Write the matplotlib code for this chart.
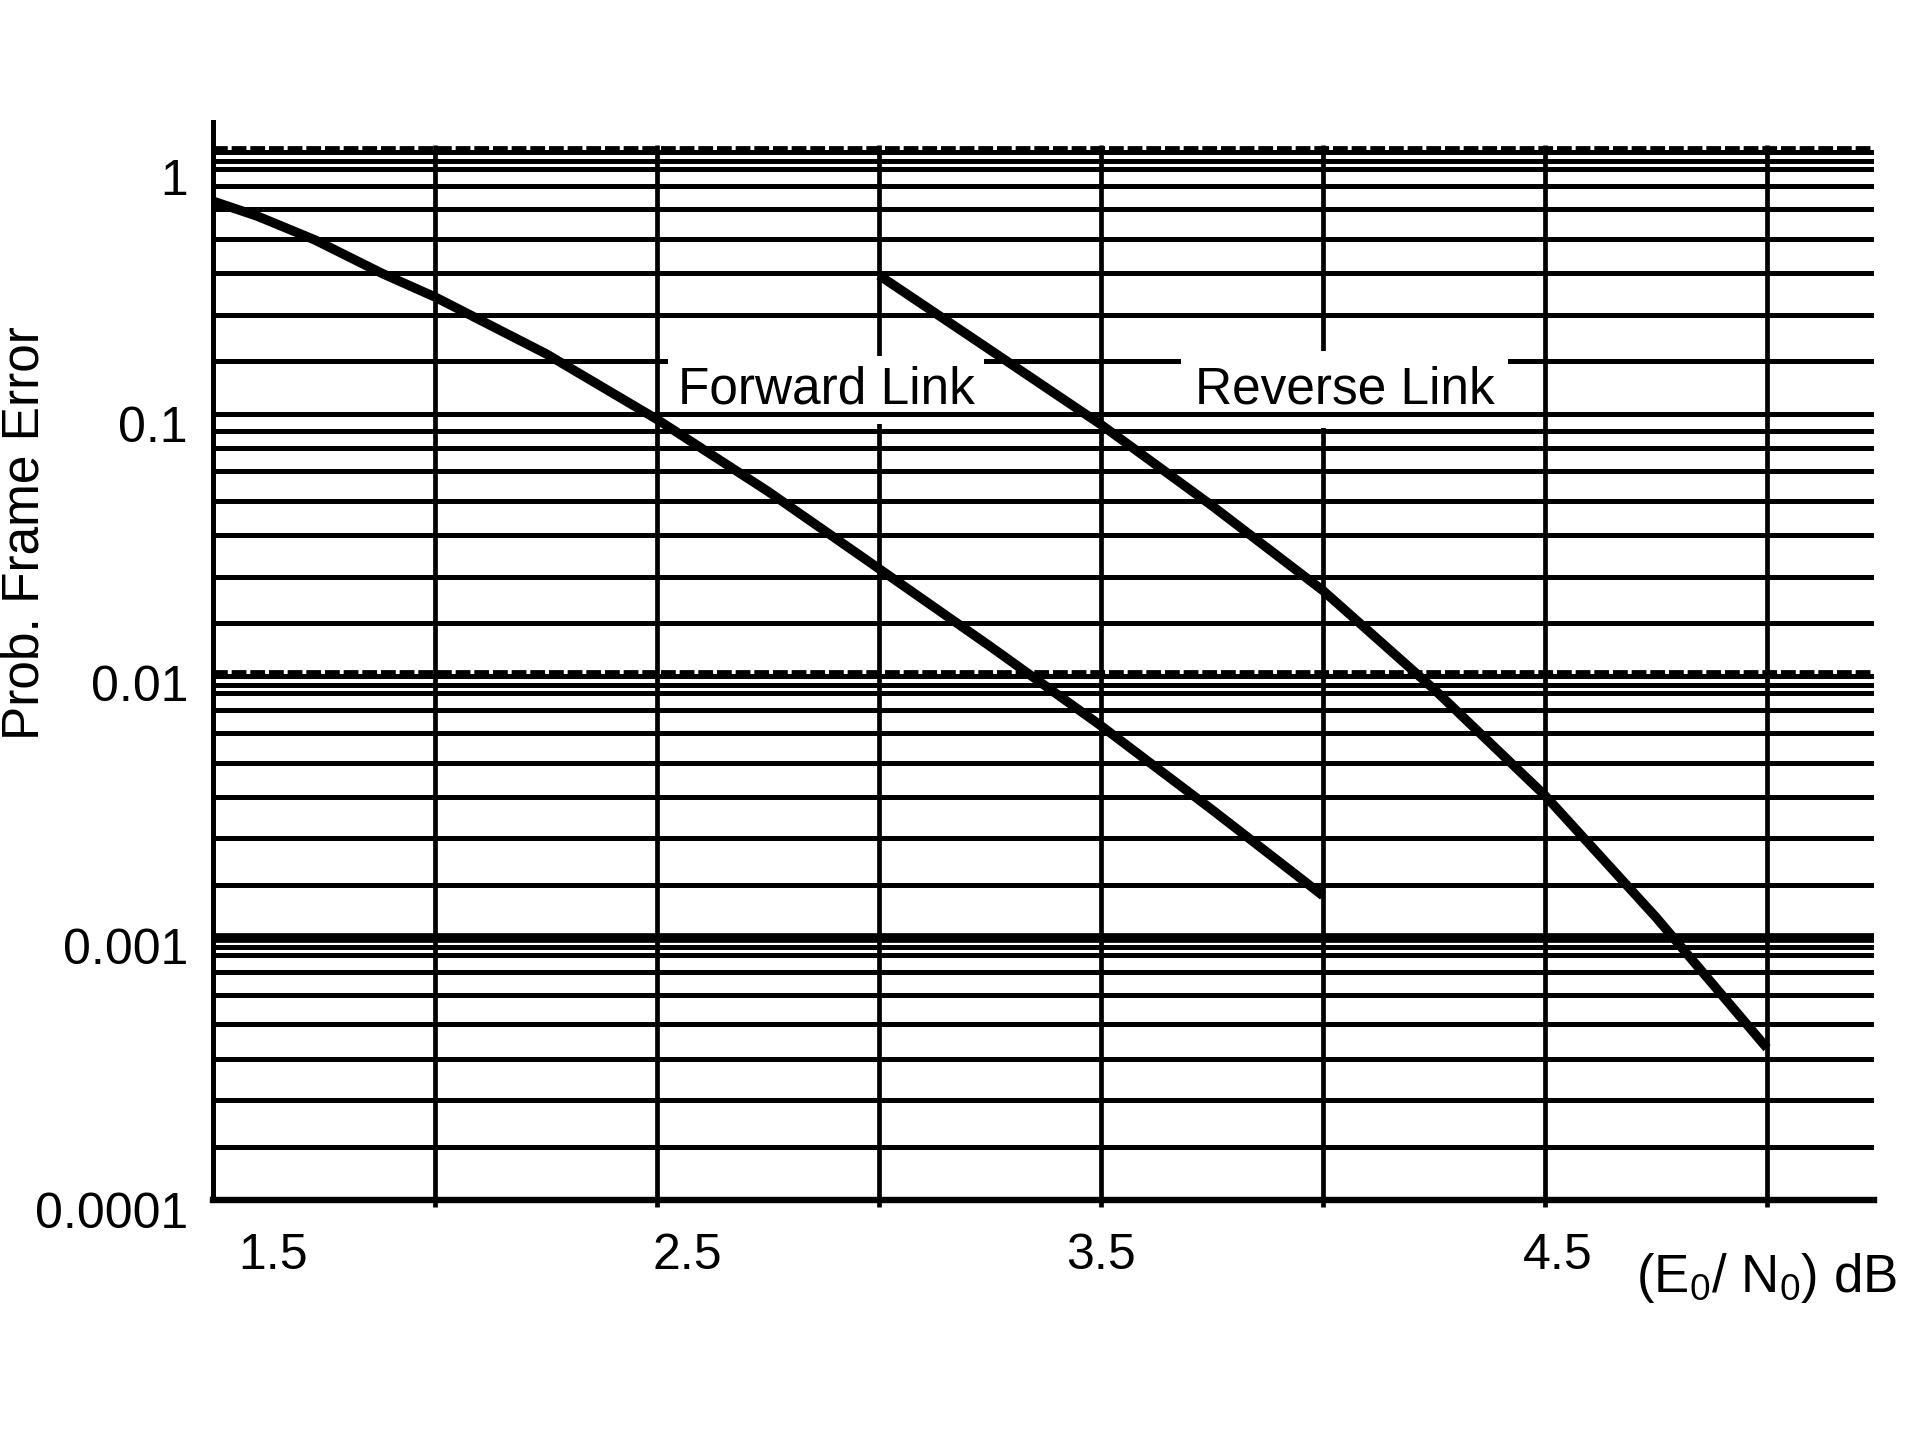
import matplotlib.pyplot as plt
from matplotlib.transforms import ScaledTranslation

plt.rcParams['font.family'] = ['Liberation Sans', 'DejaVu Sans']
plt.rcParams['mathtext.fontset'] = 'custom'
plt.rcParams['mathtext.rm'] = 'Liberation Sans'
plt.rcParams['mathtext.it'] = 'Liberation Sans:italic'
plt.rcParams['mathtext.bf'] = 'Liberation Sans:bold'

# values
fwd_ebno = [1.5, 1.6, 1.73, 1.88, 2.0, 2.25, 2.5, 2.75, 3.0, 3.25, 3.5, 3.75, 4.0]
fwd_pfe = [0.65, 0.57, 0.462, 0.345, 0.28, 0.170, 0.0955, 0.0507, 0.0257, 0.0130,
           0.00646, 0.00309, 0.00145]

rev_ebno = [3.0, 3.25, 3.5, 3.75, 4.0, 4.25, 4.5, 4.75, 5.0]
rev_pfe = [0.339, 0.176, 0.0912, 0.0447, 0.0212, 0.00891, 0.0035, 0.0012, 0.00038]

x_ticks = [1.5, 2.5, 3.5, 4.5]
x_tick_labels = ['1.5', '2.5', '3.5', '4.5']
y_ticks = [1, 0.1, 0.01, 0.001, 0.0001]
y_tick_labels = ['1', '0.1', '0.01', '0.001', '0.0001']

# the original grid is not a true log grid: where the minor lines sit inside a decade
minor_frac = [0.035, 0.063, 0.13, 0.217, 0.33, 0.46, 0.62, 0.797]
v_grid = [2.0, 2.5, 3.0, 3.5, 4.0, 4.5, 5.0]

fig = plt.figure(figsize=(19.2, 14.4), dpi=100)
ax = fig.add_axes([0.111, 0.1667, 0.8648, 0.7483])
ax.set_yscale('log')
ax.set_xlim(1.5, 5.24)
ax.set_ylim(1e-4, 1.3)

lw_grid = 3.6
for k in range(4):
    for f in minor_frac:
        if k == 1 and f < 0.05:
            continue  # that one is missing under 0.1 in the original
        ax.axhline(10 ** (-(k + f)), color='black', lw=lw_grid, zorder=1)

# decade lines (drawn above the label boxes)
for yv in [1, 0.01]:
    ax.axhline(yv, color='black', lw=lw_grid, zorder=2.5)
    ax.axhline(yv * 1.02, color='black', lw=5.6, linestyle=(0, (1.9, 0.5)),
               zorder=2.5)
ax.axhline(0.1, color='black', lw=lw_grid, zorder=2.5)
ax.axhline(0.001, color='black', lw=7, zorder=2.5)

ax.vlines(v_grid, 9.4e-5, 1.07, color='black', lw=3.4, zorder=1, clip_on=False)

ax.plot(fwd_ebno, fwd_pfe, color='black', lw=6.8, solid_joinstyle='round',
        solid_capstyle='butt', zorder=3)
ax.plot(rev_ebno, rev_pfe, color='black', lw=6.8, solid_joinstyle='round',
        solid_capstyle='butt', zorder=3)

ax.text(2.546, 0.11, 'Forward Link', fontsize=37, ha='left', va='baseline',
        bbox=dict(facecolor='white', edgecolor='none', pad=7), zorder=2)
ax.text(3.711, 0.11, 'Reverse Link', fontsize=37, ha='left', va='baseline',
        bbox=dict(facecolor='white', edgecolor='none', pad=10), zorder=2)

for s in ['top', 'right']:
    ax.spines[s].set_visible(False)
ax.spines['left'].set_linewidth(3.6)
ax.spines['bottom'].set_linewidth(4.6)

ax.set_xticks(x_ticks)
ax.set_xticklabels(x_tick_labels)
ax.set_yticks(y_ticks)
ax.set_yticklabels(y_tick_labels)
ax.yaxis.set_minor_locator(plt.NullLocator())
ax.tick_params(axis='x', length=0, pad=24, labelsize=36)
ax.tick_params(axis='y', length=0, pad=18, labelsize=36)

for lbl, dx in zip(ax.get_xticklabels(), [0.6, 0.3, 0.0, 0.13]):
    lbl.set_transform(lbl.get_transform() + ScaledTranslation(dx, 0, fig.dpi_scale_trans))
for lbl, dy in zip(ax.get_yticklabels(), [-0.25, -0.1, -0.07, -0.08, -0.1]):
    lbl.set_transform(lbl.get_transform() + ScaledTranslation(0, dy, fig.dpi_scale_trans))

fig.text(0.0128, 0.63, 'Prob. Frame Error', rotation=90, fontsize=37,
         ha='center', va='center')
fig.text(0.852, 0.103, r'$(\mathrm{E}_0/\ \mathrm{N}_0)\ \mathrm{dB}$', fontsize=38,
         ha='left', va='baseline')

fig.savefig('out.png', dpi=100)
